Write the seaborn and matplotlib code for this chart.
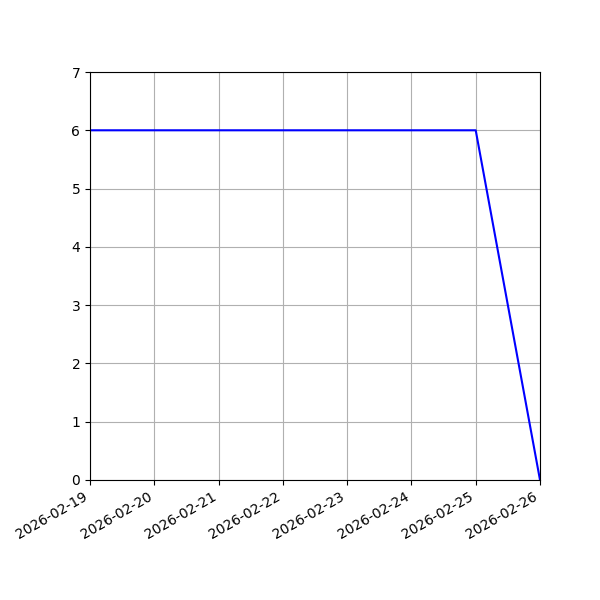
import matplotlib
matplotlib.use("Agg")
import matplotlib.pyplot as plt
import matplotlib.dates as mdates
import pandas as pd
import seaborn as sns

# data
dates = ["2026-02-19", "2026-02-20", "2026-02-21", "2026-02-22",
         "2026-02-23", "2026-02-24", "2026-02-25", "2026-02-26"]
values = [6, 6, 6, 6, 6, 6, 6, 0]

df = pd.DataFrame({"date": pd.to_datetime(dates), "value": values})

fig, ax = plt.subplots(figsize=(6, 6), dpi=100)
sns.lineplot(data=df, x="date", y="value", color="blue", ax=ax)

ax.set_xlim(df["date"].min(), df["date"].max())
ax.set_ylim(0, 7)
ax.xaxis.set_major_locator(mdates.DayLocator())
ax.xaxis.set_major_formatter(mdates.DateFormatter("%Y-%m-%d"))
ax.set_xlabel("")
ax.set_ylabel("")
ax.grid(True)

fig.autofmt_xdate()
fig.subplots_adjust(left=0.15, right=0.9, top=0.88, bottom=0.2)
fig.savefig("out.png", dpi=100)
